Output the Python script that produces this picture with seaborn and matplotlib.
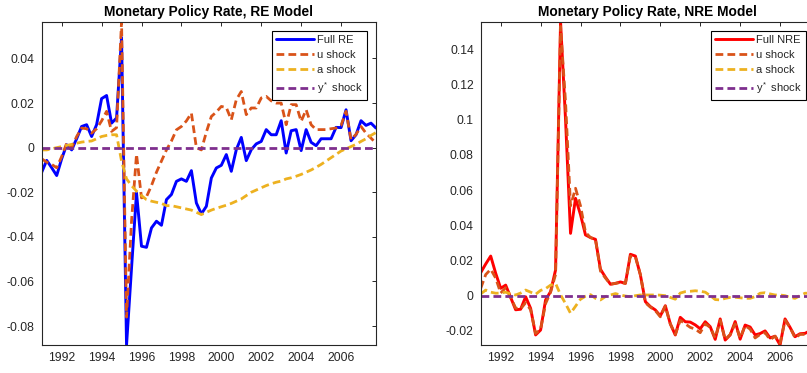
import numpy as np
import matplotlib
matplotlib.use("Agg")
import matplotlib.pyplot as plt
from matplotlib.ticker import MultipleLocator, FuncFormatter
import seaborn as sns

# Quarterly sample 1991Q1 - 2007Q4
quarters = np.arange(1991.0, 2008.0, 0.25)

# ---- Monetary policy rate, RE model: historical decomposition ----
full_re = [
    -0.0110, -0.0057, -0.0090, -0.0125, -0.0050, 0.0013, -0.0010, 0.0040,
    0.0095, 0.0103, 0.0050, 0.0103, 0.0220, 0.0234, 0.0110, 0.0133,
    0.0494, -0.0885, -0.0540, -0.0203, -0.0442, -0.0447, -0.0360, -0.0330,
    -0.0348, -0.0233, -0.0210, -0.0151, -0.0140, -0.0151, -0.0103, -0.0248,
    -0.0297, -0.0263, -0.0136, -0.0091, -0.0079, -0.0031, -0.0106, -0.0009,
    0.0046, -0.0058, -0.0009, 0.0017, 0.0028, 0.0081, 0.0058, 0.0058,
    0.0121, -0.0024, 0.0076, 0.0081, -0.0013, 0.0081, 0.0024, 0.0009,
    0.0040, 0.0040, 0.0040, 0.0091, 0.0090, 0.0170, 0.0031, 0.0058,
    0.0121, 0.0100, 0.0110, 0.0088,
]
u_re = [
    -0.0050, -0.0065, -0.0075, -0.0090, -0.0040, 0.0020, 0.0000, 0.0050,
    0.0088, 0.0085, 0.0065, 0.0085, 0.0120, 0.0163, 0.0073, 0.0090,
    0.0565, -0.0760, -0.0330, -0.0030, -0.0225, -0.0220, -0.0170, -0.0110,
    -0.0060, -0.0010, 0.0030, 0.0080, 0.0095, 0.0120, 0.0155, 0.0000,
    -0.0010, 0.0070, 0.0140, 0.0160, 0.0185, 0.0180, 0.0125, 0.0215,
    0.0252, 0.0148, 0.0178, 0.0178, 0.0223, 0.0230, 0.0210, 0.0200,
    0.0200, 0.0103, 0.0193, 0.0193, 0.0118, 0.0170, 0.0103, 0.0081,
    0.0081, 0.0081, 0.0085, 0.0088, 0.0100, 0.0163, 0.0036, 0.0060,
    0.0095, 0.0065, 0.0043, 0.0020,
]
a_re = [
    -0.0010, -0.0010, -0.0005, 0.0000, 0.0005, 0.0010, 0.0015, 0.0020,
    0.0025, 0.0028, 0.0030, 0.0040, 0.0050, 0.0055, 0.0058, 0.0058,
    -0.0060, -0.0140, -0.0170, -0.0195, -0.0215, -0.0233, -0.0240, -0.0245,
    -0.0250, -0.0260, -0.0260, -0.0265, -0.0270, -0.0275, -0.0280, -0.0290,
    -0.0300, -0.0290, -0.0280, -0.0272, -0.0265, -0.0258, -0.0250, -0.0240,
    -0.0230, -0.0215, -0.0200, -0.0190, -0.0180, -0.0170, -0.0162, -0.0155,
    -0.0150, -0.0140, -0.0135, -0.0128, -0.0120, -0.0110, -0.0100, -0.0088,
    -0.0075, -0.0060, -0.0045, -0.0030, -0.0015, -0.0005, 0.0005, 0.0015,
    0.0028, 0.0040, 0.0055, 0.0068,
]
ystar_re = [0.0] * 68

# ---- Monetary policy rate, NRE model: historical decomposition ----
full_nre = [
    0.0131, 0.0180, 0.0225, 0.0127, 0.0042, 0.0060, -0.0010, -0.0080,
    -0.0077, -0.0006, -0.0072, -0.0223, -0.0195, -0.0024, 0.0023, 0.0146,
    0.1556, 0.1000, 0.0354, 0.0553, 0.0460, 0.0345, 0.0330, 0.0320,
    0.0150, 0.0105, 0.0065, 0.0070, 0.0078, 0.0070, 0.0235, 0.0225,
    0.0118, -0.0034, -0.0062, -0.0081, -0.0115, -0.0057, -0.0160, -0.0223,
    -0.0123, -0.0148, -0.0150, -0.0166, -0.0188, -0.0148, -0.0176, -0.0248,
    -0.0132, -0.0252, -0.0223, -0.0147, -0.0247, -0.0167, -0.0178, -0.0223,
    -0.0215, -0.0200, -0.0240, -0.0230, -0.0280, -0.0132, -0.0180, -0.0233,
    -0.0216, -0.0214, -0.0199, -0.0200,
]
u_nre = [
    0.0042, 0.0120, 0.0150, 0.0100, 0.0015, 0.0045, -0.0010, -0.0070,
    -0.0075, -0.0040, -0.0080, -0.0215, -0.0190, -0.0045, 0.0020, 0.0120,
    0.1530, 0.1100, 0.0510, 0.0610, 0.0510, 0.0360, 0.0330, 0.0320,
    0.0140, 0.0100, 0.0065, 0.0070, 0.0075, 0.0070, 0.0225, 0.0220,
    0.0120, -0.0040, -0.0065, -0.0085, -0.0120, -0.0060, -0.0160, -0.0220,
    -0.0140, -0.0160, -0.0180, -0.0190, -0.0210, -0.0160, -0.0180, -0.0240,
    -0.0140, -0.0250, -0.0220, -0.0160, -0.0240, -0.0170, -0.0190, -0.0240,
    -0.0220, -0.0210, -0.0250, -0.0230, -0.0270, -0.0140, -0.0180, -0.0240,
    -0.0220, -0.0220, -0.0210, -0.0200,
]
a_nre = [
    0.0010, 0.0032, 0.0020, 0.0014, 0.0015, 0.0020, 0.0010, 0.0004,
    0.0015, 0.0032, 0.0020, 0.0008, 0.0030, 0.0040, 0.0060, 0.0070,
    0.0005, -0.0045, -0.0100, -0.0060, -0.0020, -0.0003, 0.0006, -0.0015,
    -0.0024, -0.0005, 0.0004, 0.0012, 0.0004, -0.0002, -0.0006, 0.0000,
    0.0004, 0.0004, 0.0004, 0.0004, 0.0003, 0.0000, -0.0010, -0.0020,
    0.0015, 0.0023, 0.0025, 0.0028, 0.0025, 0.0020, 0.0000, -0.0022,
    -0.0024, -0.0015, -0.0010, -0.0009, -0.0012, -0.0015, -0.0015, -0.0005,
    0.0014, 0.0017, 0.0010, 0.0004, 0.0004, 0.0000, -0.0010, -0.0015,
    0.0000, 0.0014, 0.0014, 0.0010,
]
ystar_nre = [0.0] * 68

labels_re = ["Full RE", "u shock", "a shock", r"y$^*$ shock"]
labels_nre = ["Full NRE", "u shock", "a shock", r"y$^*$ shock"]
titles = ["Monetary Policy Rate, RE Model", "Monetary Policy Rate, NRE Model"]

sns.set_style("white")
plt.rcParams["font.family"] = ["Liberation Sans", "DejaVu Sans"]
plt.rcParams["mathtext.fontset"] = "custom"
plt.rcParams["mathtext.rm"] = "Liberation Sans"
plt.rcParams["mathtext.it"] = "Liberation Sans"

INK = "#262626"
BLUE = (0.0, 0.0, 1.0)
RED = (1.0, 0.0, 0.0)
ORANGE = (0.850, 0.325, 0.098)
YELLOW = (0.929, 0.694, 0.125)
PURPLE = (0.494, 0.184, 0.556)
DASH = (0, (2.8, 1.5))

fig = plt.figure(figsize=(8.07, 3.73), dpi=100)
ax_l = fig.add_axes([0.0517, 0.0751, 0.4142, 0.8667])
ax_r = fig.add_axes([0.5957, 0.0751, 0.4142, 0.8667])

panels = [
    (ax_l, [full_re, u_re, a_re, ystar_re], labels_re, BLUE, titles[0], 0.02),
    (ax_r, [full_nre, u_nre, a_nre, ystar_nre], labels_nre, RED, titles[1], 0.02),
]

for ax, series, labels, full_color, title, ystep in panels:
    colors = [full_color, ORANGE, YELLOW, PURPLE]
    styles = ["-", DASH, DASH, DASH]
    widths = [2.1, 2.0, 2.0, 2.0]
    for vals, lab, col, ls, lw in zip(series, labels, colors, styles, widths):
        sns.lineplot(x=quarters, y=vals, ax=ax, color=col, linestyle=ls,
                     linewidth=lw, label=lab, errorbar=None, sort=False)
    all_vals = np.concatenate([np.asarray(s) for s in series])
    ax.set_xlim(quarters[0], quarters[-1])
    ax.set_ylim(all_vals.min(), all_vals.max())
    ax.xaxis.set_major_locator(MultipleLocator(2))
    ax.yaxis.set_major_locator(MultipleLocator(ystep))
    ax.yaxis.set_major_formatter(
        FuncFormatter(lambda v, p: f"{round(v, 6) + 0:g}"))
    ax.set_xlabel("")
    ax.set_ylabel("")
    ax.tick_params(direction="in", top=True, right=True, length=2.6,
                   width=0.7, colors=INK, labelsize=8.7, pad=5)
    for sp in ax.spines.values():
        sp.set_color(INK)
        sp.set_linewidth(0.8)
        sp.set_visible(True)
    ax.set_title(title, fontsize=9.9, fontweight="bold", color="black", pad=4)
    leg = ax.legend(loc="upper right", fontsize=8.0, frameon=True,
                    fancybox=False, handlelength=3.4, handletextpad=0.25,
                    labelspacing=0.45, borderpad=0.35, borderaxespad=0.85)
    leg.get_frame().set_edgecolor("black")
    leg.get_frame().set_linewidth(0.8)
    leg.get_frame().set_facecolor("white")
    leg.get_frame().set_alpha(1.0)

fig.savefig("out.png", dpi=100)
